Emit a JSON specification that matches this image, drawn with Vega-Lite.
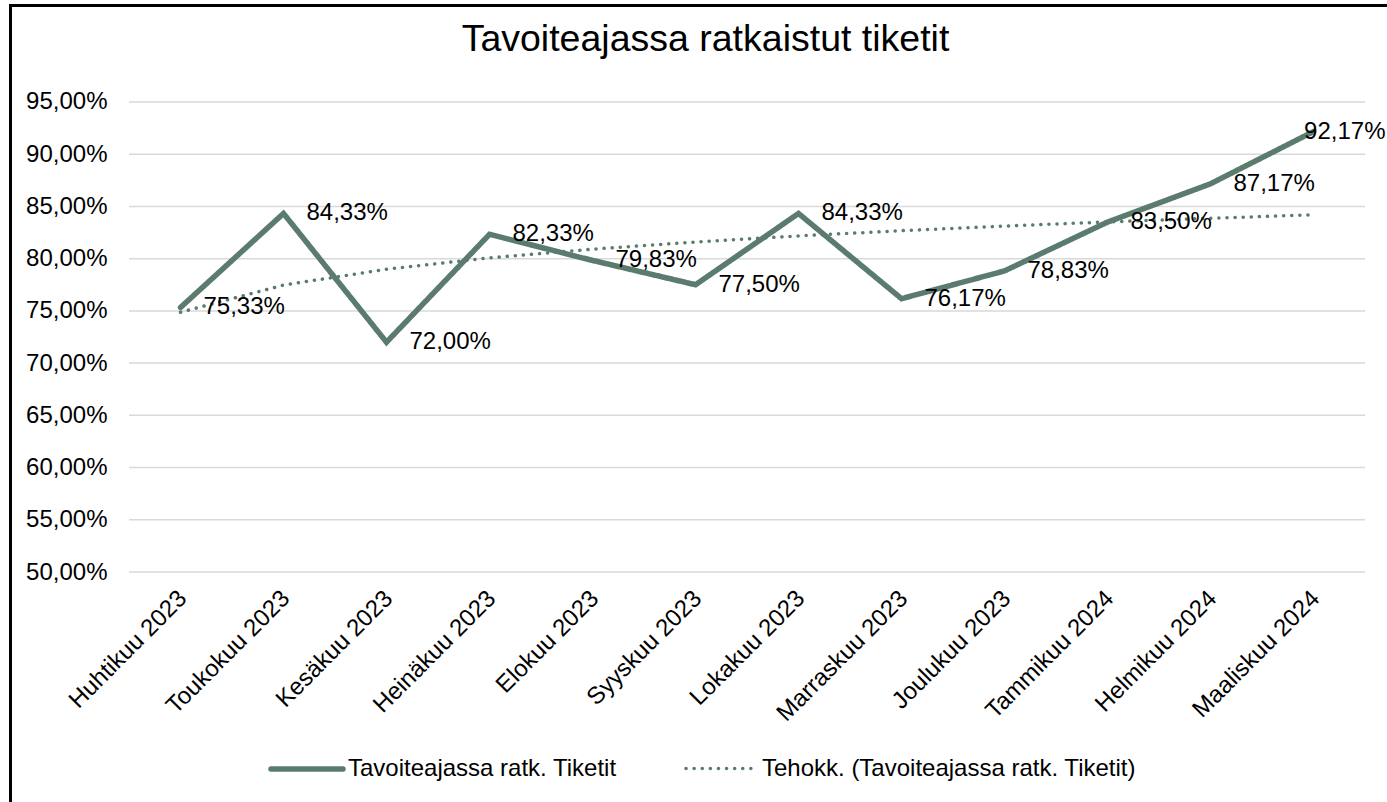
{
  "$schema": "https://vega.github.io/schema/vega-lite/v6.json",
  "width": 1377,
  "height": 797,
  "padding": {"left": 10, "top": 5, "right": 0, "bottom": 0},
  "autosize": {"type": "none"},
  "background": "white",
  "config": {
    "view": {"stroke": null},
    "font": "Liberation Sans",
    "locale": {"number": {"decimal": ",", "thousands": " ", "grouping": [3], "currency": ["", " €"], "percent": "%"}}
  },
  "title": {
    "text": "Tavoiteajassa ratkaistut tiketit",
    "font": "Liberation Sans",
    "fontSize": 37.5,
    "fontWeight": "normal",
    "color": "black",
    "anchor": "middle",
    "baseline": "alphabetic",
    "offset": -83,
    "dx": 7
  },
  "datasets": {
    "series": [
      {"month": "Huhtikuu 2023", "series": "Tavoiteajassa ratk. Tiketit", "value": 0.7533},
      {"month": "Toukokuu 2023", "series": "Tavoiteajassa ratk. Tiketit", "value": 0.8433},
      {"month": "Kesäkuu 2023", "series": "Tavoiteajassa ratk. Tiketit", "value": 0.72},
      {"month": "Heinäkuu 2023", "series": "Tavoiteajassa ratk. Tiketit", "value": 0.8233},
      {"month": "Elokuu 2023", "series": "Tavoiteajassa ratk. Tiketit", "value": 0.7983},
      {"month": "Syyskuu 2023", "series": "Tavoiteajassa ratk. Tiketit", "value": 0.775},
      {"month": "Lokakuu 2023", "series": "Tavoiteajassa ratk. Tiketit", "value": 0.8433},
      {"month": "Marraskuu 2023", "series": "Tavoiteajassa ratk. Tiketit", "value": 0.7617},
      {"month": "Joulukuu 2023", "series": "Tavoiteajassa ratk. Tiketit", "value": 0.7883},
      {"month": "Tammikuu 2024", "series": "Tavoiteajassa ratk. Tiketit", "value": 0.835},
      {"month": "Helmikuu 2024", "series": "Tavoiteajassa ratk. Tiketit", "value": 0.8717},
      {"month": "Maaliskuu 2024", "series": "Tavoiteajassa ratk. Tiketit", "value": 0.9217},
      {"month": "Huhtikuu 2023", "series": "Tehokk. (Tavoiteajassa ratk. Tiketit)", "value": 0.7487},
      {"month": "Toukokuu 2023", "series": "Tehokk. (Tavoiteajassa ratk. Tiketit)", "value": 0.7747},
      {"month": "Kesäkuu 2023", "series": "Tehokk. (Tavoiteajassa ratk. Tiketit)", "value": 0.7899},
      {"month": "Heinäkuu 2023", "series": "Tehokk. (Tavoiteajassa ratk. Tiketit)", "value": 0.8008},
      {"month": "Elokuu 2023", "series": "Tehokk. (Tavoiteajassa ratk. Tiketit)", "value": 0.8091},
      {"month": "Syyskuu 2023", "series": "Tehokk. (Tavoiteajassa ratk. Tiketit)", "value": 0.816},
      {"month": "Lokakuu 2023", "series": "Tehokk. (Tavoiteajassa ratk. Tiketit)", "value": 0.8218},
      {"month": "Marraskuu 2023", "series": "Tehokk. (Tavoiteajassa ratk. Tiketit)", "value": 0.8268},
      {"month": "Joulukuu 2023", "series": "Tehokk. (Tavoiteajassa ratk. Tiketit)", "value": 0.8312},
      {"month": "Tammikuu 2024", "series": "Tehokk. (Tavoiteajassa ratk. Tiketit)", "value": 0.8352},
      {"month": "Helmikuu 2024", "series": "Tehokk. (Tavoiteajassa ratk. Tiketit)", "value": 0.8387},
      {"month": "Maaliskuu 2024", "series": "Tehokk. (Tavoiteajassa ratk. Tiketit)", "value": 0.842}
    ],
    "grid": [
      {"value": 0.5}, {"value": 0.55}, {"value": 0.6}, {"value": 0.65}, {"value": 0.7},
      {"value": 0.75}, {"value": 0.8}, {"value": 0.85}, {"value": 0.9}, {"value": 0.95}
    ]
  },
  "encoding": {
    "y": {
      "field": "value", "type": "quantitative",
      "scale": {"domain": [0.2798, 1.04287], "nice": false, "zero": false},
      "axis": {
        "orient": "left", "values": [0.5, 0.55, 0.6, 0.65, 0.7, 0.75, 0.8, 0.85, 0.9, 0.95],
        "format": ".2%", "grid": false, "ticks": false, "tickSize": 0, "labelPadding": -97,
        "domain": true, "domainColor": "black", "domainWidth": 3, "domainCap": "square",
        "labelFontSize": 24, "labelColor": "black", "labelFont": "Liberation Sans", "title": null
      }
    }
  },
  "layer": [
    {
      "data": {"name": "grid"},
      "mark": {"type": "rule", "color": "#d9d9d9", "strokeWidth": 1.5, "xOffset": -51.5, "x2Offset": 51.5},
      "encoding": {
        "x": {"datum": "Huhtikuu 2023", "type": "nominal", "bandPosition": 0.5, "axis": null},
        "x2": {"datum": "Maaliskuu 2024"}
      }
    },
    {
      "data": {"name": "series"},
      "mark": {"type": "line", "strokeCap": "round", "strokeJoin": "miter"},
      "encoding": {
        "x": {
          "field": "month", "type": "nominal", "bandPosition": 0.5,
          "scale": {
            "type": "band", "paddingInner": 0, "paddingOuter": 0.6845, "align": 0.844,
            "domain": ["Huhtikuu 2023", "Toukokuu 2023", "Kesäkuu 2023", "Heinäkuu 2023", "Elokuu 2023", "Syyskuu 2023", "Lokakuu 2023", "Marraskuu 2023", "Joulukuu 2023", "Tammikuu 2024", "Helmikuu 2024", "Maaliskuu 2024"]
          },
          "axis": {
            "orient": "bottom", "offset": -230, "domain": false, "ticks": false, "grid": false,
            "labelAngle": -45, "labelPadding": 14, "labelOffset": -6, "labelFontSize": 24, "labelColor": "black",
            "labelFont": "Liberation Sans", "title": null
          }
        },
        "color": {
          "field": "series", "type": "nominal",
          "scale": {"domain": ["Tavoiteajassa ratk. Tiketit", "Tehokk. (Tavoiteajassa ratk. Tiketit)"], "range": ["#5B7B6E", "#5B7B6E"]},
          "legend": {
            "orient": "none", "legendX": 258, "legendY": 725, "direction": "horizontal", "title": null,
            "symbolType": "stroke", "symbolSize": 5184, "labelFontSize": 24, "labelColor": "black",
            "labelFont": "Liberation Sans", "labelOffset": 2, "columnPadding": 62, "labelLimit": 1000,
            "encode": {"symbols": {"update": {"strokeCap": {"value": "round"}}}}
          }
        },
        "strokeDash": {
          "field": "series", "type": "nominal",
          "scale": {"domain": ["Tavoiteajassa ratk. Tiketit", "Tehokk. (Tavoiteajassa ratk. Tiketit)"], "range": [[1, 0], [0.1, 8]]}
        },
        "strokeWidth": {
          "field": "series", "type": "nominal",
          "scale": {"domain": ["Tavoiteajassa ratk. Tiketit", "Tehokk. (Tavoiteajassa ratk. Tiketit)"], "range": [5.5, 3.5]}
        }
      }
    },
    {
      "data": {"name": "series"},
      "transform": [{"filter": "datum.series === 'Tavoiteajassa ratk. Tiketit' && datum.month !== 'Maaliskuu 2024'"}],
      "mark": {"type": "text", "align": "left", "baseline": "middle", "dx": 23, "fontSize": 24, "font": "Liberation Sans", "color": "black"},
      "encoding": {
        "x": {
          "field": "month", "type": "nominal", "bandPosition": 0.5,
          "axis": {"orient": "top", "labels": false, "ticks": false, "grid": false, "domain": true, "domainColor": "black", "domainWidth": 3, "domainCap": "square", "title": null}
        },
        "text": {"field": "value", "type": "quantitative", "format": ".2%"}
      }
    },
    {
      "data": {"name": "series"},
      "transform": [{"filter": "datum.series === 'Tavoiteajassa ratk. Tiketit' && datum.month === 'Maaliskuu 2024'"}],
      "mark": {"type": "text", "align": "right", "baseline": "middle", "dx": 72, "fontSize": 24, "font": "Liberation Sans", "color": "black"},
      "encoding": {
        "x": {"field": "month", "type": "nominal", "bandPosition": 0.5, "axis": null},
        "text": {"field": "value", "type": "quantitative", "format": ".2%"}
      }
    }
  ]
}
